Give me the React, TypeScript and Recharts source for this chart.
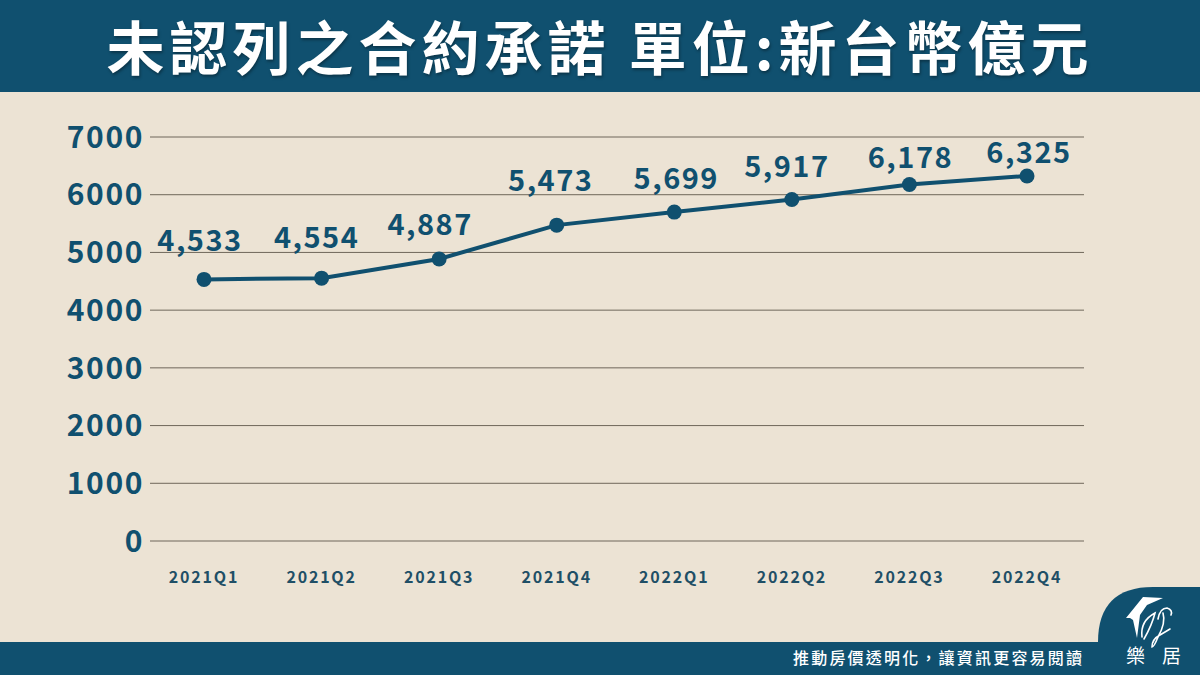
import React from 'react';
import { LineChart, Line, XAxis, YAxis, CartesianGrid, LabelList } from 'recharts';

const quarters = ['2021Q1', '2021Q2', '2021Q3', '2021Q4', '2022Q1', '2022Q2', '2022Q3', '2022Q4'];
const commitments = [4533, 4554, 4887, 5473, 5699, 5917, 6178, 6325];
const yTicks = [0, 1000, 2000, 3000, 4000, 5000, 6000, 7000];
// the source nudges every label by hand, [dx, dy] from its point
const labelNudges = [
  [-4, -41], [-5, -43], [-9, -37], [-6, -47], [2, -36], [-5, -36], [1, -29], [2, -26],
];

const NAVY = '#10506f';
const CJK = '"Noto Sans CJK TC", "Noto Sans", sans-serif';

const data = quarters.map((quarter, i) => ({ quarter, value: commitments[i] }));

const PointLabel = (props: any) => {
  const { x, y, value, index } = props;
  const [dx, dy] = labelNudges[index];
  return (
    <text
      x={x + dx}
      y={y + dy}
      textAnchor="middle"
      dominantBaseline="central"
      fill={NAVY}
      fontSize={29}
      fontWeight={600}
      letterSpacing={1.5}
      fontFamily={CJK}
    >
      {Number(value).toLocaleString('en-US')}
    </text>
  );
};

const Logo = () => (
  <svg width={102} height={88} style={{ position: 'absolute', left: 1098, top: 587 }}>
    <path d="M0 88 V55 Q0 0 55 0 H102 V88 Z" fill={NAVY} />
    <path d="M28 31 L45 10 L65 11 L49 18 L42 28 L39 51 L35 33 L32 31 Z" fill="#fff" />
    <path
      d="M44 50 Q42 34 57 26 Q54 38 46 52 M60 32 Q62 21 69 21 Q75 23 73 28 M65 26 Q68 36 60 50 Q56 60 54 60 Q54 52 62 48 L72 42"
      fill="none"
      stroke="#fff"
      strokeWidth={1.6}
      strokeLinecap="round"
    />
  </svg>
);

export default function App() {
  return (
    <div
      style={{
        position: 'absolute',
        left: 0,
        top: 0,
        width: 1200,
        height: 675,
        overflow: 'hidden',
        background: '#ece3d4',
        fontFamily: CJK,
      }}
    >
      <div
        style={{
          position: 'absolute',
          left: 0,
          top: 0,
          width: 1200,
          height: 92,
          lineHeight: '90px',
          background: NAVY,
          color: '#fff',
          textAlign: 'center',
          fontSize: 58,
          fontWeight: 700,
          letterSpacing: 5,
          whiteSpace: 'pre',
          textShadow: '1px 2px 3px rgba(0,0,0,0.35)',
        }}
      >
        未認列之合約承諾 單位:新台幣億元
      </div>

      <LineChart
        width={1200}
        height={675}
        data={data}
        margin={{ top: 137, right: 116, bottom: 0, left: 0 }}
        style={{ position: 'absolute', left: 0, top: 0 }}
      >
        <CartesianGrid vertical={false} stroke="#6f675a" strokeWidth={1} />
        <XAxis
          dataKey="quarter"
          height={134}
          axisLine={false}
          tickLine={false}
          tickMargin={25}
          padding={{ left: 54, right: 57 }}
          interval={0}
          tick={{ fill: '#1f4f66', fontSize: 16, fontWeight: 700, letterSpacing: 1.8, fontFamily: CJK }}
        />
        <YAxis
          width={150}
          domain={[0, 7000]}
          ticks={yTicks}
          interval={0}
          axisLine={false}
          tickLine={false}
          tickMargin={0}
          tick={{ fill: NAVY, fontSize: 30, fontWeight: 600, letterSpacing: 1.6, fontFamily: CJK }}
        />
        <Line
          type="linear"
          dataKey="value"
          stroke={NAVY}
          strokeWidth={4}
          dot={{ r: 7.5, fill: NAVY, stroke: NAVY, strokeWidth: 0 }}
          isAnimationActive={false}
        >
          <LabelList dataKey="value" content={PointLabel} />
        </Line>
      </LineChart>

      <div
        style={{
          position: 'absolute',
          left: 0,
          top: 642,
          width: 1200,
          height: 33,
          background: NAVY,
        }}
      />
      <Logo />
      <div
        style={{
          position: 'absolute',
          left: 793,
          top: 642,
          height: 33,
          lineHeight: '31px',
          color: '#fff',
          fontSize: 16,
          fontWeight: 500,
          letterSpacing: 2.2,
          whiteSpace: 'pre',
        }}
      >
        {'推動房價透明化\uFF0C讓資訊更容易閱讀'}
      </div>
      <div
        style={{
          position: 'absolute',
          left: 1126,
          top: 640,
          height: 30,
          lineHeight: '30px',
          color: '#fff',
          fontSize: 19,
          letterSpacing: 17,
          whiteSpace: 'pre',
        }}
      >
        樂居
      </div>
    </div>
  );
}
